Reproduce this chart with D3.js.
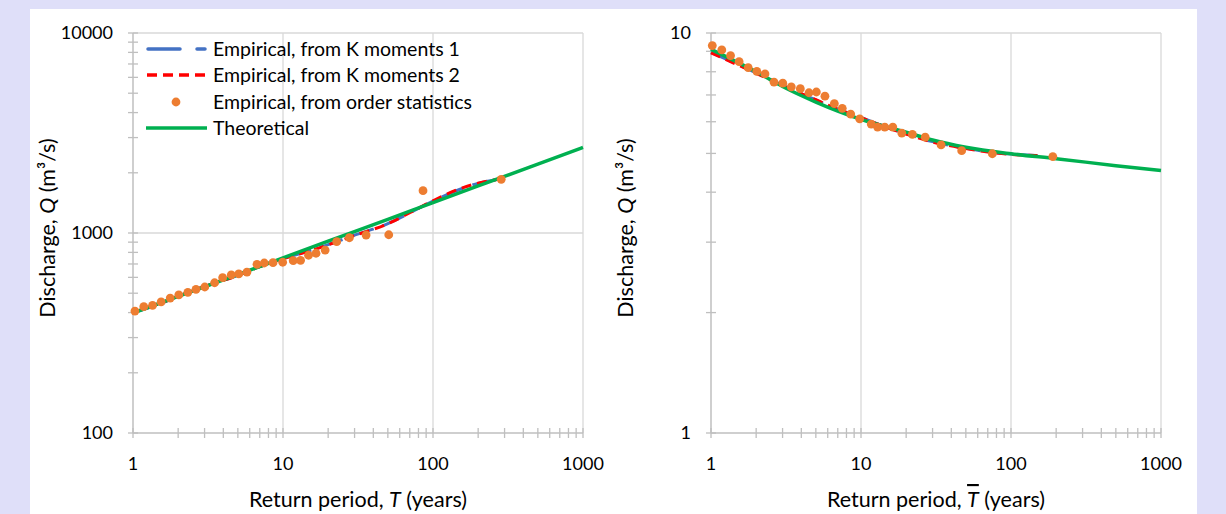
<!DOCTYPE html>
<html><head><meta charset="utf-8">
<script src="https://cdn.jsdelivr.net/npm/d3@7"></script>
<style>
body{margin:0;background:#dfdff9;}
svg{display:block}
text{font-family:Lato,"Open Sans",sans-serif;fill:#000}
</style>
</head><body>
<svg id="c" width="1226" height="514"></svg>
<script>
// ---------- DATA ----------
const xTickLabels = [1, 10, 100, 1000];
const leftYTickLabels = [100, 1000, 10000];
const rightYTickLabels = [1, 10];

const seriesNames = ["Empirical, from K moments 1", "Empirical, from K moments 2", "Empirical, from order statistics", "Theoretical"];

// Left panel
const leftOrderT = [1.03,1.18,1.35,1.54,1.77,2.02,2.32,2.63,3.01,3.5,3.96,4.52,5.07,5.75,6.71,7.5,8.58,9.95,11.7,13.1,14.8,16.6,19.1,22.8,27.7,35.8,50.7,85.8,285];
const leftOrderQ = [407,428,435,452,473,490,505,523,537,564,598,617,624,638,697,708,711,714,727,730,774,792,822,905,947,977,980,1627,1856];
const leftK1T = [1,1.5,2,3,5,7,10,15,20,30,50,70,100,150,200,280];
const leftK1Q = [400,442,482,540,615,680,745,815,875,975,1115,1260,1445,1650,1770,1860];
const leftK2T = [1,1.5,2,3,5,7,10,15,20,30,50,70,100,150,200,280];
const leftK2Q = [401,443,483,541,613,679,743,812,872,972,1112,1262,1450,1660,1775,1862];
const leftTheoT = [1,2,5,10,20,50,100,200,500,1000];
const leftTheoQ = [398,482,619,751,910,1170,1420,1720,2210,2680];

// Right panel
const rightOrderT = [1.02,1.18,1.35,1.54,1.77,2.02,2.29,2.63,3.01,3.43,3.94,4.5,5.04,5.75,6.64,7.5,8.54,9.8,11.7,12.9,14.4,16.3,18.7,22,26.8,34.2,46.9,75.1,190];
const rightOrderQ = [9.3,9.07,8.78,8.48,8.19,8.02,7.9,7.54,7.49,7.33,7.26,7.09,7.12,6.95,6.66,6.48,6.27,6.1,5.92,5.82,5.82,5.82,5.62,5.58,5.49,5.25,5.08,4.99,4.91];
const rightK1T = [1,1.5,2,3,5,7,10,15,20,30,50,70,100,150];
const rightK1Q = [8.95,8.35,7.95,7.4,6.8,6.45,6.15,5.8,5.6,5.35,5.15,5.05,4.98,4.94];
const rightK2T = [1,1.5,2,3,5,7,10,15,20,30,50,70,100,150];
const rightK2Q = [8.92,8.33,7.93,7.39,6.81,6.45,6.14,5.8,5.59,5.34,5.14,5.04,4.97,4.94];
const rightTheoT = [1,1.5,2,3,5,7,10,20,30,50,100,200,500,1000];
const rightTheoQ = [9.1,8.45,8.0,7.35,6.72,6.38,6.08,5.65,5.4,5.18,4.99,4.85,4.66,4.53];

// ---------- STYLE ----------
const C = {blue:"#4472C4", red:"#FF0000", orange:"#ED7D31", green:"#00B050", grid:"#D9D9D9", axis:"#BFBFBF"};

const svg = d3.select("#c");
svg.append("rect").attr("x",30).attr("y",9).attr("width",1167).attr("height",505).attr("fill","#fff");

function zip(a,b){return a.map((v,i)=>[v,b[i]]);}

function panel(o){
  const x = d3.scaleLog().domain([1,1000]).range([o.x0,o.x1]);
  const y = d3.scaleLog().domain(o.yDomain).range([433,33]);
  const g = svg.append("g");
  // gridlines
  g.selectAll(".vg").data(xTickLabels.slice(1)).join("line")
    .attr("x1",d=>x(d)).attr("x2",d=>x(d)).attr("y1",y.range()[0]).attr("y2",y.range()[1])
    .attr("stroke",C.grid).attr("stroke-width",1.3);
  g.selectAll(".hg").data(o.yLabels.slice(1)).join("line")
    .attr("y1",d=>y(d)).attr("y2",d=>y(d)).attr("x1",o.x0).attr("x2",o.x1)
    .attr("stroke",C.grid).attr("stroke-width",1.3);
  // axes
  g.append("line").attr("x1",o.x0).attr("x2",o.x0).attr("y1",y.range()[0]).attr("y2",y.range()[1]).attr("stroke",C.axis).attr("stroke-width",1.5);
  g.append("line").attr("x1",o.x0).attr("x2",o.x1).attr("y1",y.range()[0]).attr("y2",y.range()[0]).attr("stroke",C.axis).attr("stroke-width",1.5);
  g.selectAll(".xt").data(x.ticks()).join("line")
    .attr("x1",d=>x(d)).attr("x2",d=>x(d)).attr("y1",428).attr("y2",438).attr("stroke",C.axis).attr("stroke-width",1.3);
  g.selectAll(".yt").data(y.ticks()).join("line")
    .attr("y1",d=>y(d)).attr("y2",d=>y(d)).attr("x1",o.x0-5).attr("x2",o.x0+5).attr("stroke",C.axis).attr("stroke-width",1.3);
  // tick labels
  g.selectAll(".xl").data(xTickLabels).join("text")
    .attr("x",d=>x(d)).attr("y",470).attr("text-anchor","middle").attr("font-size",18).text(d=>d);
  g.selectAll(".yl").data(o.yLabels).join("text")
    .attr("x",o.x0-20).attr("y",d=>y(d)+6).attr("text-anchor","end").attr("font-size",18).text(d=>d);
  // titles
  const xt = g.append("text").attr("x",(o.x0+o.x1)/2).attr("y",507).attr("text-anchor","middle").attr("font-size",21.5);
  xt.append("tspan").text("Return period, ");
  const tT = xt.append("tspan").attr("font-style","italic").text("T");
  if(o.overline) tT.style("text-decoration","overline");
  xt.append("tspan").text(" (years)");
  const yt = g.append("text").attr("transform",`translate(${o.yTitleX},228) rotate(-90)`).attr("text-anchor","middle").attr("font-size",21.5);
  yt.append("tspan").text("Discharge, ");
  yt.append("tspan").attr("font-style","italic").text("Q");
  yt.append("tspan").text(" (m\u00B3/s)");
  // series
  const line = d3.line().x(d=>x(d[0])).y(d=>y(d[1])).curve(d3.curveMonotoneX);
  g.append("path").attr("d",line(zip(o.k1T,o.k1Q))).attr("fill","none").attr("stroke",C.blue).attr("stroke-width",3).attr("stroke-dasharray","24,9");
  g.append("path").attr("d",line(zip(o.k2T,o.k2Q))).attr("fill","none").attr("stroke",C.red).attr("stroke-width",3).attr("stroke-dasharray","10,6");
  g.append("path").attr("d",line(zip(o.thT,o.thQ))).attr("fill","none").attr("stroke",C.green).attr("stroke-width",3.5);
  g.selectAll(".pt").data(zip(o.ordT,o.ordQ)).join("circle")
    .attr("cx",d=>x(d[0])).attr("cy",d=>y(d[1])).attr("r",4.4).attr("fill",C.orange);
  return g;
}

panel({x0:133,x1:583,yDomain:[100,10000],yLabels:leftYTickLabels,yTitleX:55,overline:false,
  k1T:leftK1T,k1Q:leftK1Q,k2T:leftK2T,k2Q:leftK2Q,thT:leftTheoT,thQ:leftTheoQ,ordT:leftOrderT,ordQ:leftOrderQ});
panel({x0:711,x1:1161,yDomain:[1,10],yLabels:rightYTickLabels,yTitleX:633,overline:true,
  k1T:rightK1T,k1Q:rightK1Q,k2T:rightK2T,k2Q:rightK2Q,thT:rightTheoT,thQ:rightTheoQ,ordT:rightOrderT,ordQ:rightOrderQ});

// legend
const lg = svg.append("g");
const rows = [49,75,102,128];
lg.append("line").attr("x1",148).attr("x2",205).attr("y1",rows[0]).attr("y2",rows[0]).attr("stroke",C.blue).attr("stroke-width",3.5).attr("stroke-linecap","round").attr("stroke-dasharray","32,17");
lg.append("line").attr("x1",147).attr("x2",206).attr("y1",rows[1]).attr("y2",rows[1]).attr("stroke",C.red).attr("stroke-width",3.5).attr("stroke-dasharray","10,6");
lg.append("circle").attr("cx",176).attr("cy",rows[2]).attr("r",4.4).attr("fill",C.orange);
lg.append("line").attr("x1",146).attr("x2",207).attr("y1",rows[3]).attr("y2",rows[3]).attr("stroke",C.green).attr("stroke-width",3.5);
lg.selectAll("text").data(seriesNames).join("text")
  .attr("x",213).attr("y",(d,i)=>rows[i]+6.5).attr("font-size",19.5).text(d=>d);
</script>
</body></html>
